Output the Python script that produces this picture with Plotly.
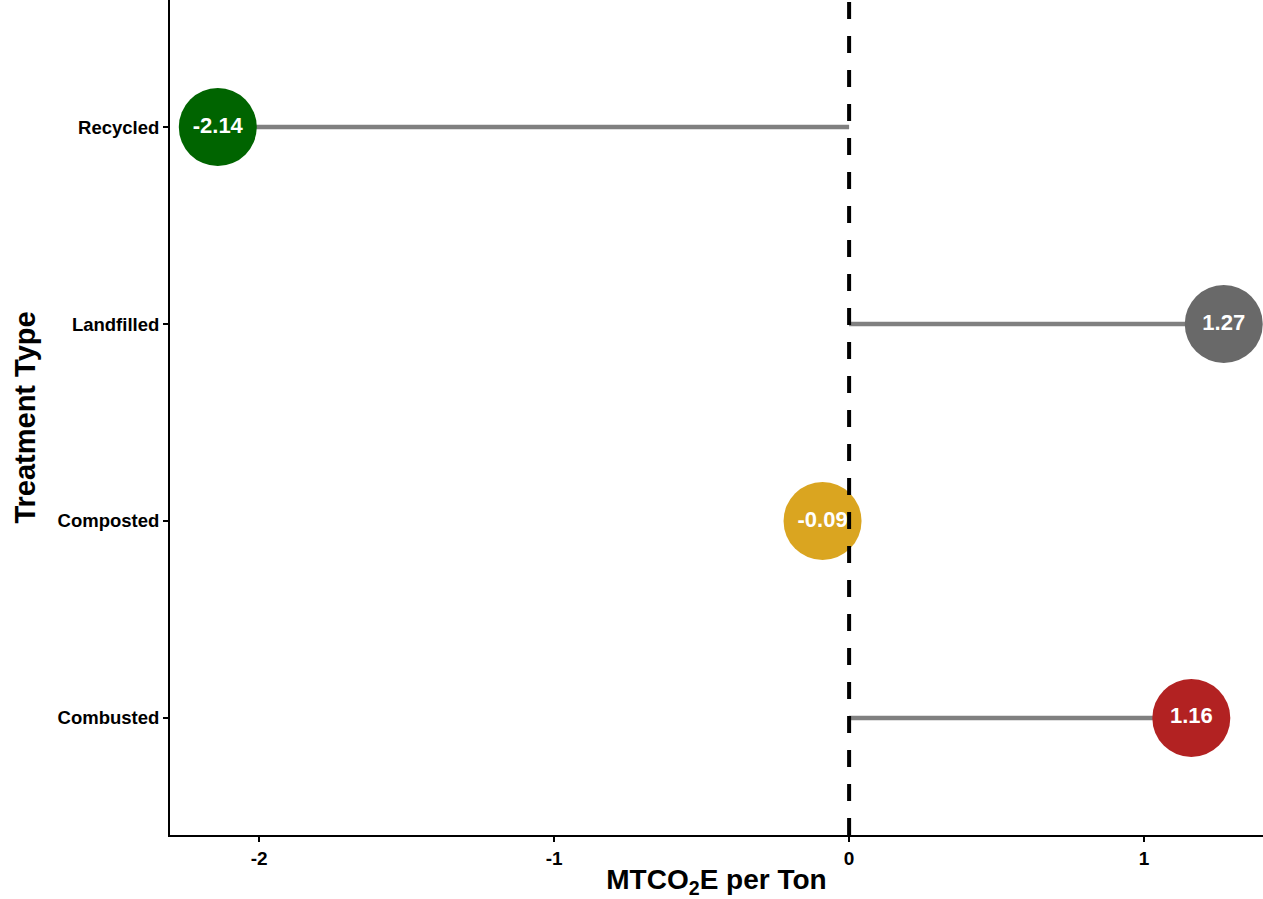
import plotly.graph_objects as go

categories = ["Combusted", "Composted", "Landfilled", "Recycled"]
values = [1.16, -0.09, 1.27, -2.14]
labels = ["1.16", "-0.09", "1.27", "-2.14"]
colors = ["#B22222", "#DAA520", "#696969", "#006400"]
x_ticks = [-2, -1, 0, 1]

ypos = list(range(len(categories)))

seg_x, seg_y = [], []
for i, v in enumerate(values):
    seg_x += [0, v, None]
    seg_y += [ypos[i], ypos[i], None]

fig = go.Figure()
fig.add_trace(go.Scatter(x=seg_x, y=seg_y, mode="lines",
                         line=dict(color="#808080", width=4.5),
                         hoverinfo="skip", showlegend=False))
fig.add_shape(type="line", x0=0, x1=0, xref="x", y0=0, y1=1, yref="paper",
              line=dict(color="black", width=4, dash="17px,17px"))
fig.add_trace(go.Scatter(x=values, y=ypos, mode="markers+text",
                         marker=dict(size=78, color=colors, line=dict(width=0), opacity=1),
                         text=labels, textposition="middle center",
                         textfont=dict(color="white", size=22, family="Liberation Sans", weight="bold"),
                         cliponaxis=False, showlegend=False))

fig.update_layout(
    width=1263, height=899,
    margin=dict(l=170, r=0, t=0, b=64),
    paper_bgcolor="white", plot_bgcolor="white",
    font=dict(family="Liberation Sans", color="black"),
    xaxis=dict(range=[-2.302, 1.403], tickvals=x_ticks, ticktext=[str(t) for t in x_ticks],
               showgrid=False, zeroline=False, showline=True, linecolor="black", linewidth=2,
               ticks="outside", ticklen=5, tickwidth=1.5, tickcolor="black",
               tickfont=dict(size=19, weight="bold", color="black"),
               title=dict(text="MTCO<sub>2</sub>E per Ton", font=dict(size=28, weight="bold"), standoff=9)),
    yaxis=dict(range=[-0.594, 3.645], tickvals=ypos, ticktext=categories,
               showgrid=False, zeroline=False, showline=True, linecolor="black", linewidth=2,
               ticks="outside", ticklen=5, tickwidth=1.5, tickcolor="black",
               tickfont=dict(size=18.5, weight="bold", color="black"),
               title=dict(text="Treatment Type", font=dict(size=29, weight="bold"), standoff=13)),
)
fig.write_html("out.html", config={"displayModeBar": False},
               post_script="document.body.style.margin='0';document.body.style.overflow='hidden';")
